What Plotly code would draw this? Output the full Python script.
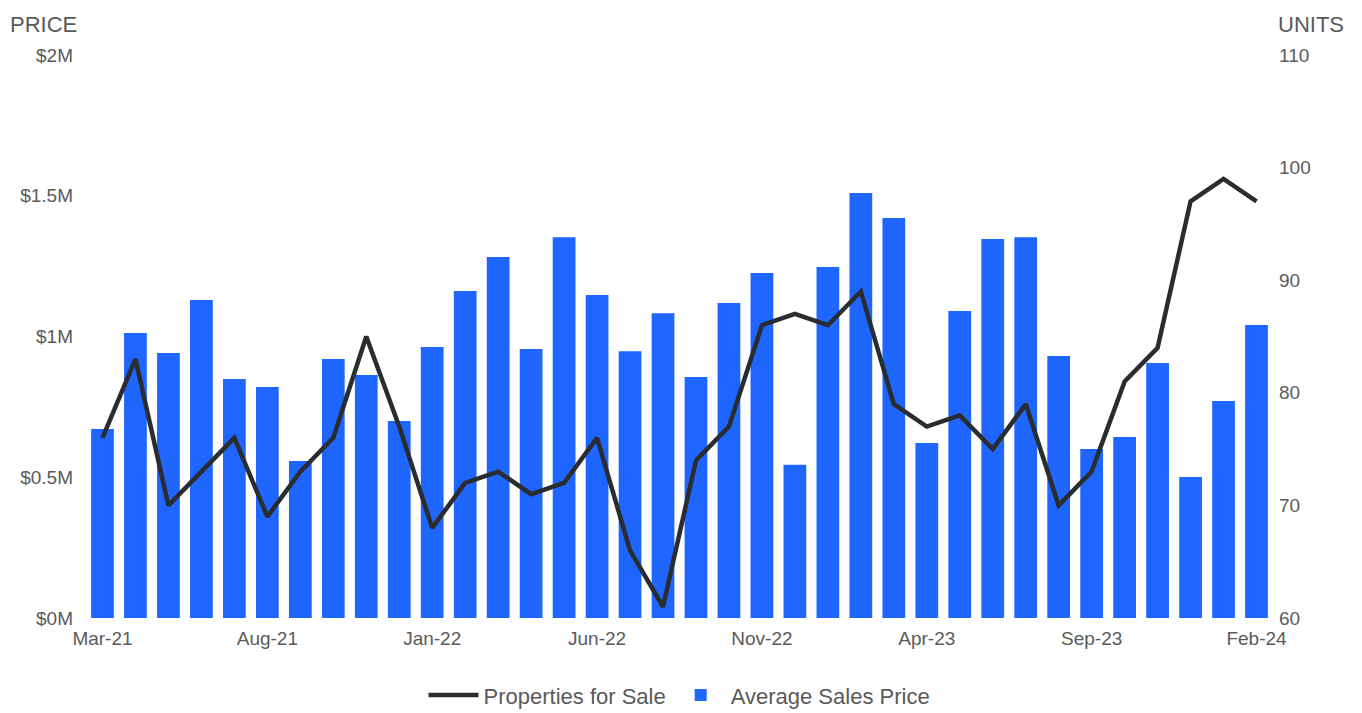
import plotly.graph_objects as go

months = ["Mar-21", "Apr-21", "May-21", "Jun-21", "Jul-21", "Aug-21", "Sep-21", "Oct-21",
          "Nov-21", "Dec-21", "Jan-22", "Feb-22", "Mar-22", "Apr-22", "May-22", "Jun-22",
          "Jul-22", "Aug-22", "Sep-22", "Oct-22", "Nov-22", "Dec-22", "Jan-23", "Feb-23",
          "Mar-23", "Apr-23", "May-23", "Jun-23", "Jul-23", "Aug-23", "Sep-23", "Oct-23",
          "Nov-23", "Dec-23", "Jan-24", "Feb-24"]

avg_price = [671000, 1012000, 941000, 1130000, 849000, 821000, 558000, 920000,
             863000, 700000, 963000, 1162000, 1282000, 956000, 1353000, 1147000,
             948000, 1083000, 856000, 1119000, 1226000, 544000, 1247000, 1510000,
             1421000, 622000, 1091000, 1346000, 1353000, 931000, 600000, 643000,
             906000, 501000, 771000, 1041000]

units_for_sale = [76, 83, 70, 73, 76, 69, 73, 76,
                  85, 77, 68, 72, 73, 71, 72, 76,
                  66, 61, 74, 77, 86, 87, 86, 89,
                  79, 77, 78, 75, 79, 70, 73, 81,
                  84, 97, 99, 97]

x_tick_labels = ["Mar-21", "Aug-21", "Jan-22", "Jun-22", "Nov-22", "Apr-23", "Sep-23", "Feb-24"]
price_ticks = [0, 500000, 1000000, 1500000, 2000000]
price_tick_labels = ["$0M", "$0.5M", "$1M", "$1.5M", "$2M"]
unit_ticks = [60, 70, 80, 90, 100, 110]

FONT = "Liberation Sans, Arial, sans-serif"
TXT = "#5a5a5a"

fig = go.Figure()
fig.add_trace(go.Bar(
    x=months, y=avg_price, name="Average Sales Price",
    marker=dict(color="#1f66ff", line=dict(width=0)),
    yaxis="y", legendrank=2,
))
fig.add_trace(go.Scatter(
    x=months, y=units_for_sale, name="Properties for Sale",
    mode="lines", line=dict(color="#2a2d30", width=4.5),
    yaxis="y2", legendrank=1,
))

fig.update_layout(
    width=1362, height=713,
    margin=dict(l=78, r=97, t=47, b=103, autoexpand=False),
    paper_bgcolor="white", plot_bgcolor="white",
    font=dict(family=FONT, size=19, color=TXT),
    bargap=0.31,
    showlegend=True,
    legend=dict(orientation="h", x=0.5, xanchor="center", y=-0.137, yanchor="middle",
                font=dict(size=22, color=TXT), itemwidth=50, traceorder="normal"),
    xaxis=dict(type="category", tickmode="array", tickvals=x_tick_labels,
               ticktext=x_tick_labels, showgrid=False, zeroline=False,
               showline=False, ticks="", range=[-0.5, 35.5], automargin=False,
               tickfont=dict(size=19, color=TXT), ticklabelstandoff=7),
    yaxis=dict(range=[0, 2000000], tickmode="array", tickvals=price_ticks,
               ticktext=price_tick_labels, showgrid=False, zeroline=False,
               showline=False, ticks="", tickfont=dict(size=19, color=TXT),
               ticklabelstandoff=12, automargin=False),
    yaxis2=dict(range=[60, 110], tickmode="array", tickvals=unit_ticks,
                overlaying="y", side="right", showgrid=False, zeroline=False,
                showline=False, ticks="", tickfont=dict(size=19, color=TXT),
                ticklabelstandoff=5, automargin=False),
    annotations=[
        dict(text="PRICE", xref="paper", yref="paper", x=-0.066, y=1.0, yshift=31,
             xanchor="left", yanchor="middle", showarrow=False,
             font=dict(size=22, color=TXT)),
        dict(text="UNITS", xref="paper", yref="paper", x=1.0, xshift=3, y=1.0, yshift=31,
             xanchor="left", yanchor="middle", showarrow=False,
             font=dict(size=22, color=TXT)),
    ],
)

fig.write_html("out.html")
